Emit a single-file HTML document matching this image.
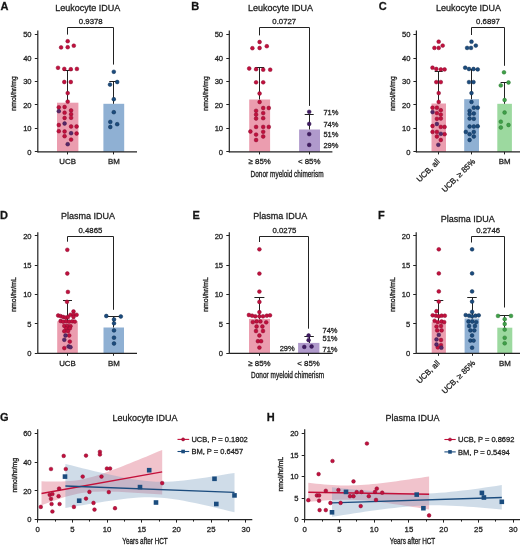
<!DOCTYPE html><html><head><meta charset="utf-8"><style>html,body{margin:0;padding:0;background:#fff;}svg{display:block;will-change:transform;}</style></head><body>
<svg width="520" height="547" viewBox="0 0 520 547" font-family='"Liberation Sans", sans-serif'>
<rect width="520" height="547" fill="#fff"/>
<text x="0.50" y="10.00" font-size="11" text-anchor="start" fill="#111" stroke="#222" stroke-width="0.28" font-weight="bold">A</text>
<text x="87.70" y="10.50" font-size="9" text-anchor="middle" fill="#222" stroke="#222" stroke-width="0.28" >Leukocyte IDUA</text>
<line x1="37.80" y1="30.50" x2="37.80" y2="152.40" stroke="#222" stroke-width="1.2"/>
<line x1="34.80" y1="151.50" x2="37.80" y2="151.50" stroke="#222" stroke-width="1"/>
<text x="31.60" y="154.60" font-size="7.6" text-anchor="end" fill="#222" stroke="#222" stroke-width="0.28" >0</text>
<line x1="34.80" y1="128.50" x2="37.80" y2="128.50" stroke="#222" stroke-width="1"/>
<text x="31.60" y="131.14" font-size="7.6" text-anchor="end" fill="#222" stroke="#222" stroke-width="0.28" >10</text>
<line x1="34.80" y1="104.50" x2="37.80" y2="104.50" stroke="#222" stroke-width="1"/>
<text x="31.60" y="107.68" font-size="7.6" text-anchor="end" fill="#222" stroke="#222" stroke-width="0.28" >20</text>
<line x1="34.80" y1="81.50" x2="37.80" y2="81.50" stroke="#222" stroke-width="1"/>
<text x="31.60" y="84.22" font-size="7.6" text-anchor="end" fill="#222" stroke="#222" stroke-width="0.28" >30</text>
<line x1="34.80" y1="58.50" x2="37.80" y2="58.50" stroke="#222" stroke-width="1"/>
<text x="31.60" y="60.76" font-size="7.6" text-anchor="end" fill="#222" stroke="#222" stroke-width="0.28" >40</text>
<line x1="34.80" y1="34.50" x2="37.80" y2="34.50" stroke="#222" stroke-width="1"/>
<text x="31.60" y="37.30" font-size="7.6" text-anchor="end" fill="#222" stroke="#222" stroke-width="0.28" >50</text>
<text transform="translate(16.40,93.40) rotate(-90)" font-size="7.9" text-anchor="middle" fill="#222" stroke="#222" stroke-width="0.35" textLength="34.5" lengthAdjust="spacingAndGlyphs">nmol/hr/mg</text>
<rect x="57.00" y="102.70" width="21.40" height="49.20" fill="#eb9daf"/>
<rect x="103.40" y="103.80" width="20.80" height="48.10" fill="#8fb0d3"/>
<line x1="67.50" y1="102.70" x2="67.50" y2="70.80" stroke="#222" stroke-width="1"/>
<line x1="63.20" y1="70.50" x2="72.20" y2="70.50" stroke="#222" stroke-width="1"/>
<line x1="113.50" y1="103.80" x2="113.50" y2="81.20" stroke="#222" stroke-width="1"/>
<line x1="109.30" y1="81.50" x2="118.30" y2="81.50" stroke="#222" stroke-width="1"/>
<line x1="37.80" y1="151.90" x2="137.00" y2="151.90" stroke="#222" stroke-width="1.2"/>
<line x1="67.50" y1="151.90" x2="67.50" y2="154.40" stroke="#222" stroke-width="1"/>
<line x1="113.50" y1="151.90" x2="113.50" y2="154.40" stroke="#222" stroke-width="1"/>
<text x="67.70" y="164.00" font-size="7.9" text-anchor="middle" fill="#222" stroke="#222" stroke-width="0.28" >UCB</text>
<text x="113.80" y="164.00" font-size="7.9" text-anchor="middle" fill="#222" stroke="#222" stroke-width="0.28" >BM</text>
<polyline points="67.50,34.60 67.50,27.50 113.50,27.50 113.50,64.60" fill="none" stroke="#222" stroke-width="1"/>
<text x="90.80" y="24.30" font-size="7.8" text-anchor="middle" fill="#222" stroke="#222" stroke-width="0.28" >0.9378</text>
<circle cx="67.70" cy="41.20" r="1.9" fill="#c2103d" stroke="#8a0c30" stroke-width="0.5"/>
<circle cx="61.10" cy="47.40" r="1.9" fill="#c2103d" stroke="#8a0c30" stroke-width="0.5"/>
<circle cx="67.70" cy="47.20" r="1.9" fill="#c2103d" stroke="#8a0c30" stroke-width="0.5"/>
<circle cx="73.80" cy="45.70" r="1.9" fill="#c2103d" stroke="#8a0c30" stroke-width="0.5"/>
<circle cx="58.00" cy="67.80" r="1.9" fill="#c2103d" stroke="#8a0c30" stroke-width="0.5"/>
<circle cx="64.30" cy="68.90" r="1.9" fill="#c2103d" stroke="#8a0c30" stroke-width="0.5"/>
<circle cx="70.80" cy="69.20" r="1.9" fill="#c2103d" stroke="#8a0c30" stroke-width="0.5"/>
<circle cx="76.90" cy="68.90" r="1.9" fill="#c2103d" stroke="#8a0c30" stroke-width="0.5"/>
<circle cx="64.30" cy="82.00" r="1.9" fill="#c2103d" stroke="#8a0c30" stroke-width="0.5"/>
<circle cx="70.80" cy="82.00" r="1.9" fill="#c2103d" stroke="#8a0c30" stroke-width="0.5"/>
<circle cx="67.70" cy="93.10" r="1.9" fill="#c2103d" stroke="#8a0c30" stroke-width="0.5"/>
<circle cx="67.70" cy="101.60" r="1.9" fill="#c2103d" stroke="#8a0c30" stroke-width="0.5"/>
<circle cx="58.80" cy="107.30" r="1.9" fill="#c2103d" stroke="#8a0c30" stroke-width="0.5"/>
<circle cx="64.60" cy="107.00" r="1.9" fill="#c2103d" stroke="#8a0c30" stroke-width="0.5"/>
<circle cx="64.60" cy="112.70" r="1.9" fill="#c2103d" stroke="#8a0c30" stroke-width="0.5"/>
<circle cx="71.10" cy="110.40" r="1.9" fill="#c2103d" stroke="#8a0c30" stroke-width="0.5"/>
<circle cx="71.10" cy="114.20" r="1.9" fill="#c2103d" stroke="#8a0c30" stroke-width="0.5"/>
<circle cx="64.60" cy="118.00" r="1.9" fill="#c2103d" stroke="#8a0c30" stroke-width="0.5"/>
<circle cx="71.10" cy="117.80" r="1.9" fill="#c2103d" stroke="#8a0c30" stroke-width="0.5"/>
<circle cx="58.80" cy="125.00" r="1.9" fill="#c2103d" stroke="#8a0c30" stroke-width="0.5"/>
<circle cx="71.10" cy="126.50" r="1.9" fill="#c2103d" stroke="#8a0c30" stroke-width="0.5"/>
<circle cx="76.60" cy="126.50" r="1.9" fill="#c2103d" stroke="#8a0c30" stroke-width="0.5"/>
<circle cx="58.80" cy="131.20" r="1.9" fill="#c2103d" stroke="#8a0c30" stroke-width="0.5"/>
<circle cx="64.60" cy="131.50" r="1.9" fill="#c2103d" stroke="#8a0c30" stroke-width="0.5"/>
<circle cx="76.60" cy="133.50" r="1.9" fill="#c2103d" stroke="#8a0c30" stroke-width="0.5"/>
<circle cx="64.60" cy="136.20" r="1.9" fill="#c2103d" stroke="#8a0c30" stroke-width="0.5"/>
<circle cx="71.10" cy="139.60" r="1.9" fill="#c2103d" stroke="#8a0c30" stroke-width="0.5"/>
<circle cx="58.80" cy="111.20" r="1.9" fill="#58286a" stroke="#3a1a48" stroke-width="0.5"/>
<circle cx="64.60" cy="123.50" r="1.9" fill="#58286a" stroke="#3a1a48" stroke-width="0.5"/>
<circle cx="71.10" cy="133.20" r="1.9" fill="#58286a" stroke="#3a1a48" stroke-width="0.5"/>
<circle cx="67.70" cy="144.20" r="1.9" fill="#58286a" stroke="#3a1a48" stroke-width="0.5"/>
<circle cx="113.80" cy="71.80" r="1.9" fill="#1b4c7e" stroke="#0f2e52" stroke-width="0.5"/>
<circle cx="110.00" cy="84.60" r="1.9" fill="#1b4c7e" stroke="#0f2e52" stroke-width="0.5"/>
<circle cx="117.20" cy="82.00" r="1.9" fill="#1b4c7e" stroke="#0f2e52" stroke-width="0.5"/>
<circle cx="113.80" cy="99.20" r="1.9" fill="#1b4c7e" stroke="#0f2e52" stroke-width="0.5"/>
<circle cx="113.80" cy="112.20" r="1.9" fill="#1b4c7e" stroke="#0f2e52" stroke-width="0.5"/>
<circle cx="110.30" cy="121.90" r="1.9" fill="#1b4c7e" stroke="#0f2e52" stroke-width="0.5"/>
<circle cx="117.20" cy="124.20" r="1.9" fill="#1b4c7e" stroke="#0f2e52" stroke-width="0.5"/>
<circle cx="110.30" cy="127.00" r="1.9" fill="#1b4c7e" stroke="#0f2e52" stroke-width="0.5"/>
<text x="191.20" y="10.00" font-size="11" text-anchor="start" fill="#111" stroke="#222" stroke-width="0.28" font-weight="bold">B</text>
<text x="280.40" y="10.50" font-size="9" text-anchor="middle" fill="#222" stroke="#222" stroke-width="0.28" >Leukocyte IDUA</text>
<line x1="229.30" y1="30.50" x2="229.30" y2="152.40" stroke="#222" stroke-width="1.2"/>
<line x1="226.30" y1="151.50" x2="229.30" y2="151.50" stroke="#222" stroke-width="1"/>
<text x="223.10" y="154.60" font-size="7.6" text-anchor="end" fill="#222" stroke="#222" stroke-width="0.28" >0</text>
<line x1="226.30" y1="128.50" x2="229.30" y2="128.50" stroke="#222" stroke-width="1"/>
<text x="223.10" y="131.14" font-size="7.6" text-anchor="end" fill="#222" stroke="#222" stroke-width="0.28" >10</text>
<line x1="226.30" y1="104.50" x2="229.30" y2="104.50" stroke="#222" stroke-width="1"/>
<text x="223.10" y="107.68" font-size="7.6" text-anchor="end" fill="#222" stroke="#222" stroke-width="0.28" >20</text>
<line x1="226.30" y1="81.50" x2="229.30" y2="81.50" stroke="#222" stroke-width="1"/>
<text x="223.10" y="84.22" font-size="7.6" text-anchor="end" fill="#222" stroke="#222" stroke-width="0.28" >30</text>
<line x1="226.30" y1="58.50" x2="229.30" y2="58.50" stroke="#222" stroke-width="1"/>
<text x="223.10" y="60.76" font-size="7.6" text-anchor="end" fill="#222" stroke="#222" stroke-width="0.28" >40</text>
<line x1="226.30" y1="34.50" x2="229.30" y2="34.50" stroke="#222" stroke-width="1"/>
<text x="223.10" y="37.30" font-size="7.6" text-anchor="end" fill="#222" stroke="#222" stroke-width="0.28" >50</text>
<text transform="translate(207.80,93.40) rotate(-90)" font-size="7.9" text-anchor="middle" fill="#222" stroke="#222" stroke-width="0.35" textLength="34.5" lengthAdjust="spacingAndGlyphs">nmol/hr/mg</text>
<rect x="249.20" y="99.50" width="20.90" height="52.40" fill="#eb9daf"/>
<rect x="299.10" y="129.50" width="20.90" height="22.40" fill="#b09acc"/>
<line x1="259.50" y1="99.50" x2="259.50" y2="67.20" stroke="#222" stroke-width="1"/>
<line x1="255.20" y1="67.50" x2="264.20" y2="67.50" stroke="#222" stroke-width="1"/>
<line x1="309.50" y1="129.50" x2="309.50" y2="114.70" stroke="#222" stroke-width="1"/>
<line x1="304.70" y1="114.50" x2="313.70" y2="114.50" stroke="#222" stroke-width="1"/>
<line x1="229.30" y1="151.90" x2="332.40" y2="151.90" stroke="#222" stroke-width="1.2"/>
<line x1="259.50" y1="151.90" x2="259.50" y2="154.40" stroke="#222" stroke-width="1"/>
<line x1="309.50" y1="151.90" x2="309.50" y2="154.40" stroke="#222" stroke-width="1"/>
<text x="259.70" y="164.00" font-size="7.9" text-anchor="middle" fill="#222" stroke="#222" stroke-width="0.28" >≥ 85%</text>
<text x="309.20" y="164.00" font-size="7.9" text-anchor="middle" fill="#222" stroke="#222" stroke-width="0.28" >&lt; 85%</text>
<text x="287.10" y="177.20" font-size="9.3" text-anchor="middle" fill="#222" stroke="#222" stroke-width="0.35" textLength="73" lengthAdjust="spacingAndGlyphs">Donor myeloid chimerism</text>
<polyline points="259.50,35.40 259.50,27.50 309.50,27.50 309.50,105.90" fill="none" stroke="#222" stroke-width="1"/>
<text x="284.30" y="24.30" font-size="7.8" text-anchor="middle" fill="#222" stroke="#222" stroke-width="0.28" >0.0727</text>
<circle cx="259.60" cy="42.00" r="1.9" fill="#c2103d" stroke="#8a0c30" stroke-width="0.5"/>
<circle cx="252.40" cy="48.20" r="1.9" fill="#c2103d" stroke="#8a0c30" stroke-width="0.5"/>
<circle cx="259.60" cy="48.00" r="1.9" fill="#c2103d" stroke="#8a0c30" stroke-width="0.5"/>
<circle cx="266.80" cy="46.20" r="1.9" fill="#c2103d" stroke="#8a0c30" stroke-width="0.5"/>
<circle cx="249.20" cy="68.50" r="1.9" fill="#c2103d" stroke="#8a0c30" stroke-width="0.5"/>
<circle cx="256.10" cy="69.20" r="1.9" fill="#c2103d" stroke="#8a0c30" stroke-width="0.5"/>
<circle cx="263.20" cy="69.70" r="1.9" fill="#c2103d" stroke="#8a0c30" stroke-width="0.5"/>
<circle cx="270.20" cy="69.70" r="1.9" fill="#c2103d" stroke="#8a0c30" stroke-width="0.5"/>
<circle cx="256.10" cy="82.30" r="1.9" fill="#c2103d" stroke="#8a0c30" stroke-width="0.5"/>
<circle cx="263.20" cy="82.30" r="1.9" fill="#c2103d" stroke="#8a0c30" stroke-width="0.5"/>
<circle cx="259.60" cy="93.50" r="1.9" fill="#c2103d" stroke="#8a0c30" stroke-width="0.5"/>
<circle cx="259.60" cy="102.00" r="1.9" fill="#c2103d" stroke="#8a0c30" stroke-width="0.5"/>
<circle cx="263.20" cy="108.00" r="1.9" fill="#c2103d" stroke="#8a0c30" stroke-width="0.5"/>
<circle cx="268.80" cy="108.00" r="1.9" fill="#c2103d" stroke="#8a0c30" stroke-width="0.5"/>
<circle cx="256.10" cy="110.80" r="1.9" fill="#c2103d" stroke="#8a0c30" stroke-width="0.5"/>
<circle cx="263.20" cy="113.10" r="1.9" fill="#c2103d" stroke="#8a0c30" stroke-width="0.5"/>
<circle cx="256.10" cy="114.60" r="1.9" fill="#c2103d" stroke="#8a0c30" stroke-width="0.5"/>
<circle cx="256.10" cy="118.50" r="1.9" fill="#c2103d" stroke="#8a0c30" stroke-width="0.5"/>
<circle cx="263.20" cy="118.20" r="1.9" fill="#c2103d" stroke="#8a0c30" stroke-width="0.5"/>
<circle cx="256.10" cy="126.90" r="1.9" fill="#c2103d" stroke="#8a0c30" stroke-width="0.5"/>
<circle cx="263.20" cy="126.90" r="1.9" fill="#c2103d" stroke="#8a0c30" stroke-width="0.5"/>
<circle cx="268.80" cy="126.90" r="1.9" fill="#c2103d" stroke="#8a0c30" stroke-width="0.5"/>
<circle cx="250.40" cy="131.50" r="1.9" fill="#c2103d" stroke="#8a0c30" stroke-width="0.5"/>
<circle cx="263.20" cy="131.80" r="1.9" fill="#c2103d" stroke="#8a0c30" stroke-width="0.5"/>
<circle cx="256.10" cy="134.60" r="1.9" fill="#c2103d" stroke="#8a0c30" stroke-width="0.5"/>
<circle cx="263.20" cy="136.50" r="1.9" fill="#c2103d" stroke="#8a0c30" stroke-width="0.5"/>
<circle cx="256.10" cy="140.00" r="1.9" fill="#c2103d" stroke="#8a0c30" stroke-width="0.5"/>
<circle cx="309.20" cy="111.80" r="1.9" fill="#3f1a62" stroke="#2e1248" stroke-width="0.5"/>
<circle cx="309.20" cy="123.90" r="1.9" fill="#3f1a62" stroke="#2e1248" stroke-width="0.5"/>
<circle cx="309.20" cy="134.10" r="1.9" fill="#3f1a62" stroke="#2e1248" stroke-width="0.5"/>
<circle cx="309.20" cy="144.90" r="1.9" fill="#3f1a62" stroke="#2e1248" stroke-width="0.5"/>
<text x="323.40" y="115.10" font-size="7.5" text-anchor="start" fill="#222" stroke="#222" stroke-width="0.28" >71%</text>
<text x="323.40" y="126.60" font-size="7.5" text-anchor="start" fill="#222" stroke="#222" stroke-width="0.28" >74%</text>
<text x="323.40" y="136.80" font-size="7.5" text-anchor="start" fill="#222" stroke="#222" stroke-width="0.28" >51%</text>
<text x="323.40" y="147.60" font-size="7.5" text-anchor="start" fill="#222" stroke="#222" stroke-width="0.28" >29%</text>
<text x="378.70" y="10.00" font-size="11" text-anchor="start" fill="#111" stroke="#222" stroke-width="0.28" font-weight="bold">C</text>
<text x="468.50" y="10.50" font-size="9" text-anchor="middle" fill="#222" stroke="#222" stroke-width="0.28" >Leukocyte IDUA</text>
<line x1="416.40" y1="30.50" x2="416.40" y2="152.40" stroke="#222" stroke-width="1.2"/>
<line x1="413.40" y1="151.50" x2="416.40" y2="151.50" stroke="#222" stroke-width="1"/>
<text x="410.40" y="154.60" font-size="7.6" text-anchor="end" fill="#222" stroke="#222" stroke-width="0.28" >0</text>
<line x1="413.40" y1="128.50" x2="416.40" y2="128.50" stroke="#222" stroke-width="1"/>
<text x="410.40" y="131.14" font-size="7.6" text-anchor="end" fill="#222" stroke="#222" stroke-width="0.28" >10</text>
<line x1="413.40" y1="104.50" x2="416.40" y2="104.50" stroke="#222" stroke-width="1"/>
<text x="410.40" y="107.68" font-size="7.6" text-anchor="end" fill="#222" stroke="#222" stroke-width="0.28" >20</text>
<line x1="413.40" y1="81.50" x2="416.40" y2="81.50" stroke="#222" stroke-width="1"/>
<text x="410.40" y="84.22" font-size="7.6" text-anchor="end" fill="#222" stroke="#222" stroke-width="0.28" >30</text>
<line x1="413.40" y1="58.50" x2="416.40" y2="58.50" stroke="#222" stroke-width="1"/>
<text x="410.40" y="60.76" font-size="7.6" text-anchor="end" fill="#222" stroke="#222" stroke-width="0.28" >40</text>
<line x1="413.40" y1="34.50" x2="416.40" y2="34.50" stroke="#222" stroke-width="1"/>
<text x="410.40" y="37.30" font-size="7.6" text-anchor="end" fill="#222" stroke="#222" stroke-width="0.28" >50</text>
<text transform="translate(395.00,93.40) rotate(-90)" font-size="7.9" text-anchor="middle" fill="#222" stroke="#222" stroke-width="0.35" textLength="34.5" lengthAdjust="spacingAndGlyphs">nmol/hr/mg</text>
<rect x="431.50" y="103.50" width="14.50" height="48.40" fill="#eb9daf"/>
<rect x="464.20" y="99.20" width="14.80" height="52.70" fill="#8fb0d3"/>
<rect x="497.30" y="103.80" width="14.60" height="48.10" fill="#9cd99f"/>
<line x1="438.50" y1="103.50" x2="438.50" y2="71.00" stroke="#222" stroke-width="1"/>
<line x1="434.70" y1="71.50" x2="442.70" y2="71.50" stroke="#222" stroke-width="1"/>
<line x1="471.50" y1="99.20" x2="471.50" y2="69.20" stroke="#222" stroke-width="1"/>
<line x1="467.60" y1="69.50" x2="475.60" y2="69.50" stroke="#222" stroke-width="1"/>
<line x1="504.50" y1="103.80" x2="504.50" y2="82.10" stroke="#222" stroke-width="1"/>
<line x1="500.60" y1="82.50" x2="508.60" y2="82.50" stroke="#222" stroke-width="1"/>
<line x1="416.40" y1="151.90" x2="520.00" y2="151.90" stroke="#222" stroke-width="1.2"/>
<line x1="438.50" y1="151.90" x2="438.50" y2="154.40" stroke="#222" stroke-width="1"/>
<line x1="471.50" y1="151.90" x2="471.50" y2="154.40" stroke="#222" stroke-width="1"/>
<line x1="504.50" y1="151.90" x2="504.50" y2="154.40" stroke="#222" stroke-width="1"/>
<text transform="translate(440.30,162.10) rotate(-45)" font-size="7.9" text-anchor="end" fill="#222" stroke="#222" stroke-width="0.28">UCB, all</text>
<text transform="translate(475.60,162.10) rotate(-45)" font-size="7.9" text-anchor="end" fill="#222" stroke="#222" stroke-width="0.28">UCB, ≥ 85%</text>
<text x="504.60" y="164.00" font-size="7.9" text-anchor="middle" fill="#222" stroke="#222" stroke-width="0.28" >BM</text>
<polyline points="471.50,35.00 471.50,27.50 504.50,27.50 504.50,65.80" fill="none" stroke="#222" stroke-width="1"/>
<text x="488.00" y="24.30" font-size="7.8" text-anchor="middle" fill="#222" stroke="#222" stroke-width="0.28" >0.6897</text>
<circle cx="438.70" cy="41.70" r="1.9" fill="#c2103d" stroke="#8a0c30" stroke-width="0.5"/>
<circle cx="434.40" cy="47.90" r="1.9" fill="#c2103d" stroke="#8a0c30" stroke-width="0.5"/>
<circle cx="438.70" cy="47.90" r="1.9" fill="#c2103d" stroke="#8a0c30" stroke-width="0.5"/>
<circle cx="442.70" cy="45.60" r="1.9" fill="#c2103d" stroke="#8a0c30" stroke-width="0.5"/>
<circle cx="432.50" cy="67.70" r="1.9" fill="#c2103d" stroke="#8a0c30" stroke-width="0.5"/>
<circle cx="436.30" cy="69.00" r="1.9" fill="#c2103d" stroke="#8a0c30" stroke-width="0.5"/>
<circle cx="440.80" cy="69.40" r="1.9" fill="#c2103d" stroke="#8a0c30" stroke-width="0.5"/>
<circle cx="444.60" cy="69.40" r="1.9" fill="#c2103d" stroke="#8a0c30" stroke-width="0.5"/>
<circle cx="436.30" cy="82.10" r="1.9" fill="#c2103d" stroke="#8a0c30" stroke-width="0.5"/>
<circle cx="440.80" cy="82.10" r="1.9" fill="#c2103d" stroke="#8a0c30" stroke-width="0.5"/>
<circle cx="438.70" cy="93.10" r="1.9" fill="#c2103d" stroke="#8a0c30" stroke-width="0.5"/>
<circle cx="438.70" cy="101.90" r="1.9" fill="#c2103d" stroke="#8a0c30" stroke-width="0.5"/>
<circle cx="432.50" cy="107.70" r="1.9" fill="#c2103d" stroke="#8a0c30" stroke-width="0.5"/>
<circle cx="436.90" cy="107.70" r="1.9" fill="#c2103d" stroke="#8a0c30" stroke-width="0.5"/>
<circle cx="436.90" cy="113.10" r="1.9" fill="#c2103d" stroke="#8a0c30" stroke-width="0.5"/>
<circle cx="440.80" cy="110.20" r="1.9" fill="#c2103d" stroke="#8a0c30" stroke-width="0.5"/>
<circle cx="440.80" cy="114.60" r="1.9" fill="#c2103d" stroke="#8a0c30" stroke-width="0.5"/>
<circle cx="436.90" cy="118.80" r="1.9" fill="#c2103d" stroke="#8a0c30" stroke-width="0.5"/>
<circle cx="440.80" cy="118.50" r="1.9" fill="#c2103d" stroke="#8a0c30" stroke-width="0.5"/>
<circle cx="432.50" cy="126.00" r="1.9" fill="#c2103d" stroke="#8a0c30" stroke-width="0.5"/>
<circle cx="440.80" cy="126.90" r="1.9" fill="#c2103d" stroke="#8a0c30" stroke-width="0.5"/>
<circle cx="444.60" cy="126.90" r="1.9" fill="#c2103d" stroke="#8a0c30" stroke-width="0.5"/>
<circle cx="432.50" cy="131.90" r="1.9" fill="#c2103d" stroke="#8a0c30" stroke-width="0.5"/>
<circle cx="436.90" cy="131.90" r="1.9" fill="#c2103d" stroke="#8a0c30" stroke-width="0.5"/>
<circle cx="444.60" cy="134.20" r="1.9" fill="#c2103d" stroke="#8a0c30" stroke-width="0.5"/>
<circle cx="436.90" cy="136.50" r="1.9" fill="#c2103d" stroke="#8a0c30" stroke-width="0.5"/>
<circle cx="440.80" cy="140.00" r="1.9" fill="#c2103d" stroke="#8a0c30" stroke-width="0.5"/>
<circle cx="432.50" cy="112.10" r="1.9" fill="#58286a" stroke="#3a1a48" stroke-width="0.5"/>
<circle cx="436.90" cy="124.00" r="1.9" fill="#58286a" stroke="#3a1a48" stroke-width="0.5"/>
<circle cx="440.80" cy="133.80" r="1.9" fill="#58286a" stroke="#3a1a48" stroke-width="0.5"/>
<circle cx="438.30" cy="144.80" r="1.9" fill="#58286a" stroke="#3a1a48" stroke-width="0.5"/>
<circle cx="471.50" cy="41.70" r="1.9" fill="#1b4c7e" stroke="#0f2e52" stroke-width="0.5"/>
<circle cx="467.10" cy="47.90" r="1.9" fill="#1b4c7e" stroke="#0f2e52" stroke-width="0.5"/>
<circle cx="471.00" cy="47.90" r="1.9" fill="#1b4c7e" stroke="#0f2e52" stroke-width="0.5"/>
<circle cx="475.80" cy="45.60" r="1.9" fill="#1b4c7e" stroke="#0f2e52" stroke-width="0.5"/>
<circle cx="465.20" cy="67.70" r="1.9" fill="#1b4c7e" stroke="#0f2e52" stroke-width="0.5"/>
<circle cx="469.00" cy="69.00" r="1.9" fill="#1b4c7e" stroke="#0f2e52" stroke-width="0.5"/>
<circle cx="473.50" cy="69.00" r="1.9" fill="#1b4c7e" stroke="#0f2e52" stroke-width="0.5"/>
<circle cx="477.70" cy="69.40" r="1.9" fill="#1b4c7e" stroke="#0f2e52" stroke-width="0.5"/>
<circle cx="469.00" cy="82.10" r="1.9" fill="#1b4c7e" stroke="#0f2e52" stroke-width="0.5"/>
<circle cx="473.50" cy="82.10" r="1.9" fill="#1b4c7e" stroke="#0f2e52" stroke-width="0.5"/>
<circle cx="471.50" cy="93.10" r="1.9" fill="#1b4c7e" stroke="#0f2e52" stroke-width="0.5"/>
<circle cx="471.50" cy="101.90" r="1.9" fill="#1b4c7e" stroke="#0f2e52" stroke-width="0.5"/>
<circle cx="473.80" cy="107.70" r="1.9" fill="#1b4c7e" stroke="#0f2e52" stroke-width="0.5"/>
<circle cx="477.70" cy="107.70" r="1.9" fill="#1b4c7e" stroke="#0f2e52" stroke-width="0.5"/>
<circle cx="469.60" cy="110.80" r="1.9" fill="#1b4c7e" stroke="#0f2e52" stroke-width="0.5"/>
<circle cx="473.80" cy="113.50" r="1.9" fill="#1b4c7e" stroke="#0f2e52" stroke-width="0.5"/>
<circle cx="469.60" cy="114.00" r="1.9" fill="#1b4c7e" stroke="#0f2e52" stroke-width="0.5"/>
<circle cx="469.60" cy="118.50" r="1.9" fill="#1b4c7e" stroke="#0f2e52" stroke-width="0.5"/>
<circle cx="473.80" cy="118.80" r="1.9" fill="#1b4c7e" stroke="#0f2e52" stroke-width="0.5"/>
<circle cx="469.60" cy="126.50" r="1.9" fill="#1b4c7e" stroke="#0f2e52" stroke-width="0.5"/>
<circle cx="473.80" cy="126.50" r="1.9" fill="#1b4c7e" stroke="#0f2e52" stroke-width="0.5"/>
<circle cx="477.70" cy="126.20" r="1.9" fill="#1b4c7e" stroke="#0f2e52" stroke-width="0.5"/>
<circle cx="465.80" cy="131.90" r="1.9" fill="#1b4c7e" stroke="#0f2e52" stroke-width="0.5"/>
<circle cx="473.80" cy="131.90" r="1.9" fill="#1b4c7e" stroke="#0f2e52" stroke-width="0.5"/>
<circle cx="469.60" cy="134.20" r="1.9" fill="#1b4c7e" stroke="#0f2e52" stroke-width="0.5"/>
<circle cx="473.80" cy="136.50" r="1.9" fill="#1b4c7e" stroke="#0f2e52" stroke-width="0.5"/>
<circle cx="469.60" cy="140.00" r="1.9" fill="#1b4c7e" stroke="#0f2e52" stroke-width="0.5"/>
<circle cx="504.00" cy="72.30" r="1.9" fill="#3fa049" stroke="#2f7a33" stroke-width="0.5"/>
<circle cx="500.80" cy="85.40" r="1.9" fill="#3fa049" stroke="#2f7a33" stroke-width="0.5"/>
<circle cx="508.50" cy="82.50" r="1.9" fill="#3fa049" stroke="#2f7a33" stroke-width="0.5"/>
<circle cx="504.60" cy="100.00" r="1.9" fill="#3fa049" stroke="#2f7a33" stroke-width="0.5"/>
<circle cx="504.60" cy="112.50" r="1.9" fill="#3fa049" stroke="#2f7a33" stroke-width="0.5"/>
<circle cx="500.80" cy="121.70" r="1.9" fill="#3fa049" stroke="#2f7a33" stroke-width="0.5"/>
<circle cx="508.50" cy="125.00" r="1.9" fill="#3fa049" stroke="#2f7a33" stroke-width="0.5"/>
<circle cx="500.80" cy="127.50" r="1.9" fill="#3fa049" stroke="#2f7a33" stroke-width="0.5"/>
<text x="0.00" y="219.40" font-size="11" text-anchor="start" fill="#111" stroke="#222" stroke-width="0.28" font-weight="bold">D</text>
<text x="87.90" y="219.40" font-size="9" text-anchor="middle" fill="#222" stroke="#222" stroke-width="0.28" >Plasma IDUA</text>
<line x1="37.80" y1="232.30" x2="37.80" y2="353.80" stroke="#222" stroke-width="1.2"/>
<line x1="34.80" y1="353.50" x2="37.80" y2="353.50" stroke="#222" stroke-width="1"/>
<text x="31.60" y="356.00" font-size="7.6" text-anchor="end" fill="#222" stroke="#222" stroke-width="0.28" >0</text>
<line x1="34.80" y1="323.50" x2="37.80" y2="323.50" stroke="#222" stroke-width="1"/>
<text x="31.60" y="326.65" font-size="7.6" text-anchor="end" fill="#222" stroke="#222" stroke-width="0.28" >5</text>
<line x1="34.80" y1="294.50" x2="37.80" y2="294.50" stroke="#222" stroke-width="1"/>
<text x="31.60" y="297.30" font-size="7.6" text-anchor="end" fill="#222" stroke="#222" stroke-width="0.28" >10</text>
<line x1="34.80" y1="265.50" x2="37.80" y2="265.50" stroke="#222" stroke-width="1"/>
<text x="31.60" y="267.95" font-size="7.6" text-anchor="end" fill="#222" stroke="#222" stroke-width="0.28" >15</text>
<line x1="34.80" y1="235.50" x2="37.80" y2="235.50" stroke="#222" stroke-width="1"/>
<text x="31.60" y="238.60" font-size="7.6" text-anchor="end" fill="#222" stroke="#222" stroke-width="0.28" >20</text>
<text transform="translate(16.40,294.50) rotate(-90)" font-size="7.9" text-anchor="middle" fill="#222" stroke="#222" stroke-width="0.35" textLength="34.5" lengthAdjust="spacingAndGlyphs">nmol/hr/mL</text>
<rect x="57.20" y="321.30" width="20.60" height="32.00" fill="#eb9daf"/>
<rect x="103.50" y="327.50" width="20.50" height="25.80" fill="#8fb0d3"/>
<line x1="67.50" y1="321.30" x2="67.50" y2="300.20" stroke="#222" stroke-width="1"/>
<line x1="63.00" y1="300.50" x2="72.00" y2="300.50" stroke="#222" stroke-width="1"/>
<line x1="113.50" y1="327.50" x2="113.50" y2="316.50" stroke="#222" stroke-width="1"/>
<line x1="106.40" y1="316.50" x2="121.40" y2="316.50" stroke="#222" stroke-width="1"/>
<line x1="37.80" y1="353.30" x2="137.00" y2="353.30" stroke="#222" stroke-width="1.2"/>
<line x1="67.50" y1="353.30" x2="67.50" y2="355.80" stroke="#222" stroke-width="1"/>
<line x1="113.50" y1="353.30" x2="113.50" y2="355.80" stroke="#222" stroke-width="1"/>
<text x="67.50" y="365.50" font-size="7.9" text-anchor="middle" fill="#222" stroke="#222" stroke-width="0.28" >UCB</text>
<text x="113.90" y="365.50" font-size="7.9" text-anchor="middle" fill="#222" stroke="#222" stroke-width="0.28" >BM</text>
<polyline points="67.50,241.70 67.50,236.50 113.50,236.50 113.50,309.80" fill="none" stroke="#222" stroke-width="1"/>
<text x="90.40" y="233.10" font-size="7.8" text-anchor="middle" fill="#222" stroke="#222" stroke-width="0.28" >0.4865</text>
<circle cx="67.30" cy="249.80" r="1.9" fill="#c2103d" stroke="#8a0c30" stroke-width="0.5"/>
<circle cx="67.30" cy="273.50" r="1.9" fill="#c2103d" stroke="#8a0c30" stroke-width="0.5"/>
<circle cx="67.90" cy="291.90" r="1.9" fill="#c2103d" stroke="#8a0c30" stroke-width="0.5"/>
<circle cx="67.00" cy="301.80" r="1.9" fill="#c2103d" stroke="#8a0c30" stroke-width="0.5"/>
<circle cx="58.20" cy="315.50" r="1.9" fill="#c2103d" stroke="#8a0c30" stroke-width="0.5"/>
<circle cx="60.60" cy="316.10" r="1.9" fill="#c2103d" stroke="#8a0c30" stroke-width="0.5"/>
<circle cx="63.10" cy="317.00" r="1.9" fill="#c2103d" stroke="#8a0c30" stroke-width="0.5"/>
<circle cx="65.50" cy="317.60" r="1.9" fill="#c2103d" stroke="#8a0c30" stroke-width="0.5"/>
<circle cx="68.00" cy="317.00" r="1.9" fill="#c2103d" stroke="#8a0c30" stroke-width="0.5"/>
<circle cx="70.50" cy="314.80" r="1.9" fill="#c2103d" stroke="#8a0c30" stroke-width="0.5"/>
<circle cx="73.50" cy="311.50" r="1.9" fill="#c2103d" stroke="#8a0c30" stroke-width="0.5"/>
<circle cx="73.50" cy="314.80" r="1.9" fill="#c2103d" stroke="#8a0c30" stroke-width="0.5"/>
<circle cx="76.60" cy="314.80" r="1.9" fill="#c2103d" stroke="#8a0c30" stroke-width="0.5"/>
<circle cx="73.50" cy="317.00" r="1.9" fill="#c2103d" stroke="#8a0c30" stroke-width="0.5"/>
<circle cx="60.60" cy="321.00" r="1.9" fill="#c2103d" stroke="#8a0c30" stroke-width="0.5"/>
<circle cx="63.10" cy="321.60" r="1.9" fill="#c2103d" stroke="#8a0c30" stroke-width="0.5"/>
<circle cx="66.20" cy="321.30" r="1.9" fill="#c2103d" stroke="#8a0c30" stroke-width="0.5"/>
<circle cx="69.20" cy="321.60" r="1.9" fill="#c2103d" stroke="#8a0c30" stroke-width="0.5"/>
<circle cx="72.30" cy="321.30" r="1.9" fill="#c2103d" stroke="#8a0c30" stroke-width="0.5"/>
<circle cx="74.80" cy="321.60" r="1.9" fill="#c2103d" stroke="#8a0c30" stroke-width="0.5"/>
<circle cx="64.30" cy="325.90" r="1.9" fill="#c2103d" stroke="#8a0c30" stroke-width="0.5"/>
<circle cx="67.40" cy="325.90" r="1.9" fill="#c2103d" stroke="#8a0c30" stroke-width="0.5"/>
<circle cx="70.50" cy="326.20" r="1.9" fill="#c2103d" stroke="#8a0c30" stroke-width="0.5"/>
<circle cx="66.20" cy="328.40" r="1.9" fill="#c2103d" stroke="#8a0c30" stroke-width="0.5"/>
<circle cx="69.80" cy="328.40" r="1.9" fill="#c2103d" stroke="#8a0c30" stroke-width="0.5"/>
<circle cx="64.30" cy="331.20" r="1.9" fill="#c2103d" stroke="#8a0c30" stroke-width="0.5"/>
<circle cx="68.00" cy="331.20" r="1.9" fill="#c2103d" stroke="#8a0c30" stroke-width="0.5"/>
<circle cx="69.20" cy="335.50" r="1.9" fill="#c2103d" stroke="#8a0c30" stroke-width="0.5"/>
<circle cx="69.80" cy="341.60" r="1.9" fill="#c2103d" stroke="#8a0c30" stroke-width="0.5"/>
<circle cx="64.30" cy="348.10" r="1.9" fill="#c2103d" stroke="#8a0c30" stroke-width="0.5"/>
<circle cx="65.50" cy="335.50" r="1.9" fill="#58286a" stroke="#3a1a48" stroke-width="0.5"/>
<circle cx="64.30" cy="339.80" r="1.9" fill="#58286a" stroke="#3a1a48" stroke-width="0.5"/>
<circle cx="68.60" cy="346.50" r="1.9" fill="#58286a" stroke="#3a1a48" stroke-width="0.5"/>
<circle cx="70.50" cy="347.20" r="1.9" fill="#58286a" stroke="#3a1a48" stroke-width="0.5"/>
<circle cx="106.30" cy="316.00" r="1.9" fill="#1b4c7e" stroke="#0f2e52" stroke-width="0.5"/>
<circle cx="120.80" cy="316.50" r="1.9" fill="#1b4c7e" stroke="#0f2e52" stroke-width="0.5"/>
<circle cx="114.00" cy="319.40" r="1.9" fill="#1b4c7e" stroke="#0f2e52" stroke-width="0.5"/>
<circle cx="114.00" cy="323.30" r="1.9" fill="#1b4c7e" stroke="#0f2e52" stroke-width="0.5"/>
<circle cx="114.00" cy="330.40" r="1.9" fill="#1b4c7e" stroke="#0f2e52" stroke-width="0.5"/>
<circle cx="114.00" cy="337.70" r="1.9" fill="#1b4c7e" stroke="#0f2e52" stroke-width="0.5"/>
<circle cx="114.00" cy="343.50" r="1.9" fill="#1b4c7e" stroke="#0f2e52" stroke-width="0.5"/>
<text x="192.60" y="219.40" font-size="11" text-anchor="start" fill="#111" stroke="#222" stroke-width="0.28" font-weight="bold">E</text>
<text x="280.30" y="219.40" font-size="9" text-anchor="middle" fill="#222" stroke="#222" stroke-width="0.28" >Plasma IDUA</text>
<line x1="229.30" y1="232.30" x2="229.30" y2="353.80" stroke="#222" stroke-width="1.2"/>
<line x1="226.30" y1="353.50" x2="229.30" y2="353.50" stroke="#222" stroke-width="1"/>
<text x="223.10" y="356.00" font-size="7.6" text-anchor="end" fill="#222" stroke="#222" stroke-width="0.28" >0</text>
<line x1="226.30" y1="323.50" x2="229.30" y2="323.50" stroke="#222" stroke-width="1"/>
<text x="223.10" y="326.65" font-size="7.6" text-anchor="end" fill="#222" stroke="#222" stroke-width="0.28" >5</text>
<line x1="226.30" y1="294.50" x2="229.30" y2="294.50" stroke="#222" stroke-width="1"/>
<text x="223.10" y="297.30" font-size="7.6" text-anchor="end" fill="#222" stroke="#222" stroke-width="0.28" >10</text>
<line x1="226.30" y1="265.50" x2="229.30" y2="265.50" stroke="#222" stroke-width="1"/>
<text x="223.10" y="267.95" font-size="7.6" text-anchor="end" fill="#222" stroke="#222" stroke-width="0.28" >15</text>
<line x1="226.30" y1="235.50" x2="229.30" y2="235.50" stroke="#222" stroke-width="1"/>
<text x="223.10" y="238.60" font-size="7.6" text-anchor="end" fill="#222" stroke="#222" stroke-width="0.28" >20</text>
<text transform="translate(207.80,294.50) rotate(-90)" font-size="7.9" text-anchor="middle" fill="#222" stroke="#222" stroke-width="0.35" textLength="34.5" lengthAdjust="spacingAndGlyphs">nmol/hr/mL</text>
<rect x="249.00" y="318.90" width="21.00" height="34.40" fill="#eb9daf"/>
<rect x="298.10" y="342.90" width="21.30" height="10.40" fill="#b09acc"/>
<line x1="259.50" y1="318.90" x2="259.50" y2="297.10" stroke="#222" stroke-width="1"/>
<line x1="254.40" y1="297.50" x2="264.40" y2="297.50" stroke="#222" stroke-width="1"/>
<line x1="309.50" y1="343.00" x2="309.50" y2="336.80" stroke="#222" stroke-width="1"/>
<line x1="304.35" y1="336.50" x2="313.85" y2="336.50" stroke="#222" stroke-width="1"/>
<line x1="229.30" y1="353.30" x2="332.70" y2="353.30" stroke="#222" stroke-width="1.2"/>
<line x1="259.50" y1="353.30" x2="259.50" y2="355.80" stroke="#222" stroke-width="1"/>
<line x1="308.50" y1="353.30" x2="308.50" y2="355.80" stroke="#222" stroke-width="1"/>
<text x="259.40" y="365.50" font-size="7.9" text-anchor="middle" fill="#222" stroke="#222" stroke-width="0.28" >≥ 85%</text>
<text x="308.50" y="365.50" font-size="7.9" text-anchor="middle" fill="#222" stroke="#222" stroke-width="0.28" >&lt; 85%</text>
<text x="287.60" y="378.20" font-size="9.3" text-anchor="middle" fill="#222" stroke="#222" stroke-width="0.35" textLength="73" lengthAdjust="spacingAndGlyphs">Donor myeloid chimerism</text>
<polyline points="259.50,242.00 259.50,236.50 308.50,236.50 308.50,328.70" fill="none" stroke="#222" stroke-width="1"/>
<text x="284.40" y="233.10" font-size="7.8" text-anchor="middle" fill="#222" stroke="#222" stroke-width="0.28" >0.0275</text>
<circle cx="259.40" cy="249.30" r="1.9" fill="#c2103d" stroke="#8a0c30" stroke-width="0.5"/>
<circle cx="259.40" cy="273.60" r="1.9" fill="#c2103d" stroke="#8a0c30" stroke-width="0.5"/>
<circle cx="259.40" cy="291.60" r="1.9" fill="#c2103d" stroke="#8a0c30" stroke-width="0.5"/>
<circle cx="259.40" cy="301.90" r="1.9" fill="#c2103d" stroke="#8a0c30" stroke-width="0.5"/>
<circle cx="259.40" cy="312.10" r="1.9" fill="#c2103d" stroke="#8a0c30" stroke-width="0.5"/>
<circle cx="248.90" cy="315.00" r="1.9" fill="#c2103d" stroke="#8a0c30" stroke-width="0.5"/>
<circle cx="252.10" cy="315.70" r="1.9" fill="#c2103d" stroke="#8a0c30" stroke-width="0.5"/>
<circle cx="255.30" cy="316.30" r="1.9" fill="#c2103d" stroke="#8a0c30" stroke-width="0.5"/>
<circle cx="259.40" cy="316.30" r="1.9" fill="#c2103d" stroke="#8a0c30" stroke-width="0.5"/>
<circle cx="263.00" cy="316.30" r="1.9" fill="#c2103d" stroke="#8a0c30" stroke-width="0.5"/>
<circle cx="266.80" cy="315.70" r="1.9" fill="#c2103d" stroke="#8a0c30" stroke-width="0.5"/>
<circle cx="270.00" cy="315.30" r="1.9" fill="#c2103d" stroke="#8a0c30" stroke-width="0.5"/>
<circle cx="252.80" cy="322.10" r="1.9" fill="#c2103d" stroke="#8a0c30" stroke-width="0.5"/>
<circle cx="256.60" cy="321.40" r="1.9" fill="#c2103d" stroke="#8a0c30" stroke-width="0.5"/>
<circle cx="260.40" cy="321.40" r="1.9" fill="#c2103d" stroke="#8a0c30" stroke-width="0.5"/>
<circle cx="266.20" cy="322.30" r="1.9" fill="#c2103d" stroke="#8a0c30" stroke-width="0.5"/>
<circle cx="256.60" cy="326.50" r="1.9" fill="#c2103d" stroke="#8a0c30" stroke-width="0.5"/>
<circle cx="262.40" cy="326.50" r="1.9" fill="#c2103d" stroke="#8a0c30" stroke-width="0.5"/>
<circle cx="256.00" cy="331.00" r="1.9" fill="#c2103d" stroke="#8a0c30" stroke-width="0.5"/>
<circle cx="263.00" cy="331.00" r="1.9" fill="#c2103d" stroke="#8a0c30" stroke-width="0.5"/>
<circle cx="259.40" cy="335.50" r="1.9" fill="#c2103d" stroke="#8a0c30" stroke-width="0.5"/>
<circle cx="257.90" cy="341.20" r="1.9" fill="#c2103d" stroke="#8a0c30" stroke-width="0.5"/>
<circle cx="261.10" cy="341.20" r="1.9" fill="#c2103d" stroke="#8a0c30" stroke-width="0.5"/>
<circle cx="259.40" cy="347.60" r="1.9" fill="#c2103d" stroke="#8a0c30" stroke-width="0.5"/>
<circle cx="308.60" cy="335.50" r="1.9" fill="#3f1a62" stroke="#2e1248" stroke-width="0.5"/>
<circle cx="308.60" cy="340.20" r="1.9" fill="#3f1a62" stroke="#2e1248" stroke-width="0.5"/>
<circle cx="304.30" cy="346.90" r="1.9" fill="#3f1a62" stroke="#2e1248" stroke-width="0.5"/>
<circle cx="311.60" cy="346.50" r="1.9" fill="#3f1a62" stroke="#2e1248" stroke-width="0.5"/>
<text x="322.50" y="333.10" font-size="7.5" text-anchor="start" fill="#222" stroke="#222" stroke-width="0.28" >74%</text>
<text x="322.50" y="341.30" font-size="7.5" text-anchor="start" fill="#222" stroke="#222" stroke-width="0.28" >51%</text>
<text x="322.50" y="351.50" font-size="7.5" text-anchor="start" fill="#222" stroke="#222" stroke-width="0.28" >71%</text>
<text x="294.70" y="350.70" font-size="7.5" text-anchor="end" fill="#222" stroke="#222" stroke-width="0.28" >29%</text>
<text x="378.00" y="219.40" font-size="11" text-anchor="start" fill="#111" stroke="#222" stroke-width="0.28" font-weight="bold">F</text>
<text x="467.70" y="221.50" font-size="9" text-anchor="middle" fill="#222" stroke="#222" stroke-width="0.28" >Plasma IDUA</text>
<line x1="416.20" y1="232.30" x2="416.20" y2="353.80" stroke="#222" stroke-width="1.2"/>
<line x1="413.20" y1="353.50" x2="416.20" y2="353.50" stroke="#222" stroke-width="1"/>
<text x="410.20" y="356.00" font-size="7.6" text-anchor="end" fill="#222" stroke="#222" stroke-width="0.28" >0</text>
<line x1="413.20" y1="323.50" x2="416.20" y2="323.50" stroke="#222" stroke-width="1"/>
<text x="410.20" y="326.65" font-size="7.6" text-anchor="end" fill="#222" stroke="#222" stroke-width="0.28" >5</text>
<line x1="413.20" y1="294.50" x2="416.20" y2="294.50" stroke="#222" stroke-width="1"/>
<text x="410.20" y="297.30" font-size="7.6" text-anchor="end" fill="#222" stroke="#222" stroke-width="0.28" >10</text>
<line x1="413.20" y1="265.50" x2="416.20" y2="265.50" stroke="#222" stroke-width="1"/>
<text x="410.20" y="267.95" font-size="7.6" text-anchor="end" fill="#222" stroke="#222" stroke-width="0.28" >15</text>
<line x1="413.20" y1="235.50" x2="416.20" y2="235.50" stroke="#222" stroke-width="1"/>
<text x="410.20" y="238.60" font-size="7.6" text-anchor="end" fill="#222" stroke="#222" stroke-width="0.28" >20</text>
<text transform="translate(395.00,294.50) rotate(-90)" font-size="7.9" text-anchor="middle" fill="#222" stroke="#222" stroke-width="0.35" textLength="34.5" lengthAdjust="spacingAndGlyphs">nmol/hr/mL</text>
<rect x="431.70" y="322.10" width="14.20" height="31.20" fill="#eb9daf"/>
<rect x="464.60" y="318.50" width="14.60" height="34.80" fill="#8fb0d3"/>
<rect x="497.30" y="327.70" width="15.00" height="25.60" fill="#9cd99f"/>
<line x1="438.50" y1="322.10" x2="438.50" y2="300.60" stroke="#222" stroke-width="1"/>
<line x1="434.30" y1="300.50" x2="443.30" y2="300.50" stroke="#222" stroke-width="1"/>
<line x1="472.50" y1="318.50" x2="472.50" y2="297.40" stroke="#222" stroke-width="1"/>
<line x1="467.25" y1="297.50" x2="476.75" y2="297.50" stroke="#222" stroke-width="1"/>
<line x1="504.50" y1="327.70" x2="504.50" y2="315.90" stroke="#222" stroke-width="1"/>
<line x1="497.55" y1="315.50" x2="512.05" y2="315.50" stroke="#222" stroke-width="1"/>
<line x1="416.20" y1="353.30" x2="520.00" y2="353.30" stroke="#222" stroke-width="1.2"/>
<line x1="438.50" y1="353.30" x2="438.50" y2="355.80" stroke="#222" stroke-width="1"/>
<line x1="472.50" y1="353.30" x2="472.50" y2="355.80" stroke="#222" stroke-width="1"/>
<line x1="504.50" y1="353.30" x2="504.50" y2="355.80" stroke="#222" stroke-width="1"/>
<text transform="translate(440.30,363.60) rotate(-45)" font-size="7.9" text-anchor="end" fill="#222" stroke="#222" stroke-width="0.28">UCB, all</text>
<text transform="translate(475.60,363.60) rotate(-45)" font-size="7.9" text-anchor="end" fill="#222" stroke="#222" stroke-width="0.28">UCB, ≥ 85%</text>
<text x="504.80" y="365.50" font-size="7.9" text-anchor="middle" fill="#222" stroke="#222" stroke-width="0.28" >BM</text>
<polyline points="471.50,242.50 471.50,236.50 504.50,236.50 504.50,307.50" fill="none" stroke="#222" stroke-width="1"/>
<text x="488.20" y="233.10" font-size="7.8" text-anchor="middle" fill="#222" stroke="#222" stroke-width="0.28" >0.2746</text>
<circle cx="438.80" cy="249.30" r="1.9" fill="#c2103d" stroke="#8a0c30" stroke-width="0.5"/>
<circle cx="438.80" cy="273.40" r="1.9" fill="#c2103d" stroke="#8a0c30" stroke-width="0.5"/>
<circle cx="438.80" cy="291.40" r="1.9" fill="#c2103d" stroke="#8a0c30" stroke-width="0.5"/>
<circle cx="438.80" cy="301.60" r="1.9" fill="#c2103d" stroke="#8a0c30" stroke-width="0.5"/>
<circle cx="436.50" cy="311.20" r="1.9" fill="#c2103d" stroke="#8a0c30" stroke-width="0.5"/>
<circle cx="432.70" cy="315.30" r="1.9" fill="#c2103d" stroke="#8a0c30" stroke-width="0.5"/>
<circle cx="435.90" cy="315.70" r="1.9" fill="#c2103d" stroke="#8a0c30" stroke-width="0.5"/>
<circle cx="438.80" cy="316.30" r="1.9" fill="#c2103d" stroke="#8a0c30" stroke-width="0.5"/>
<circle cx="441.60" cy="315.70" r="1.9" fill="#c2103d" stroke="#8a0c30" stroke-width="0.5"/>
<circle cx="444.80" cy="315.70" r="1.9" fill="#c2103d" stroke="#8a0c30" stroke-width="0.5"/>
<circle cx="434.60" cy="320.80" r="1.9" fill="#c2103d" stroke="#8a0c30" stroke-width="0.5"/>
<circle cx="437.80" cy="322.10" r="1.9" fill="#c2103d" stroke="#8a0c30" stroke-width="0.5"/>
<circle cx="441.60" cy="321.50" r="1.9" fill="#c2103d" stroke="#8a0c30" stroke-width="0.5"/>
<circle cx="444.20" cy="322.10" r="1.9" fill="#c2103d" stroke="#8a0c30" stroke-width="0.5"/>
<circle cx="436.50" cy="326.60" r="1.9" fill="#c2103d" stroke="#8a0c30" stroke-width="0.5"/>
<circle cx="441.00" cy="326.00" r="1.9" fill="#c2103d" stroke="#8a0c30" stroke-width="0.5"/>
<circle cx="437.20" cy="330.40" r="1.9" fill="#c2103d" stroke="#8a0c30" stroke-width="0.5"/>
<circle cx="441.60" cy="330.40" r="1.9" fill="#c2103d" stroke="#8a0c30" stroke-width="0.5"/>
<circle cx="441.00" cy="340.00" r="1.9" fill="#c2103d" stroke="#8a0c30" stroke-width="0.5"/>
<circle cx="441.00" cy="345.10" r="1.9" fill="#c2103d" stroke="#8a0c30" stroke-width="0.5"/>
<circle cx="437.80" cy="347.40" r="1.9" fill="#c2103d" stroke="#8a0c30" stroke-width="0.5"/>
<circle cx="438.80" cy="334.90" r="1.9" fill="#58286a" stroke="#3a1a48" stroke-width="0.5"/>
<circle cx="436.50" cy="339.40" r="1.9" fill="#58286a" stroke="#3a1a48" stroke-width="0.5"/>
<circle cx="436.50" cy="344.50" r="1.9" fill="#58286a" stroke="#3a1a48" stroke-width="0.5"/>
<circle cx="441.40" cy="347.70" r="1.9" fill="#58286a" stroke="#3a1a48" stroke-width="0.5"/>
<circle cx="472.10" cy="249.30" r="1.9" fill="#1b4c7e" stroke="#0f2e52" stroke-width="0.5"/>
<circle cx="472.10" cy="273.40" r="1.9" fill="#1b4c7e" stroke="#0f2e52" stroke-width="0.5"/>
<circle cx="472.10" cy="291.40" r="1.9" fill="#1b4c7e" stroke="#0f2e52" stroke-width="0.5"/>
<circle cx="472.10" cy="301.60" r="1.9" fill="#1b4c7e" stroke="#0f2e52" stroke-width="0.5"/>
<circle cx="472.10" cy="311.90" r="1.9" fill="#1b4c7e" stroke="#0f2e52" stroke-width="0.5"/>
<circle cx="465.70" cy="315.10" r="1.9" fill="#1b4c7e" stroke="#0f2e52" stroke-width="0.5"/>
<circle cx="469.10" cy="315.70" r="1.9" fill="#1b4c7e" stroke="#0f2e52" stroke-width="0.5"/>
<circle cx="472.10" cy="316.30" r="1.9" fill="#1b4c7e" stroke="#0f2e52" stroke-width="0.5"/>
<circle cx="475.50" cy="315.70" r="1.9" fill="#1b4c7e" stroke="#0f2e52" stroke-width="0.5"/>
<circle cx="478.70" cy="315.30" r="1.9" fill="#1b4c7e" stroke="#0f2e52" stroke-width="0.5"/>
<circle cx="468.50" cy="321.50" r="1.9" fill="#1b4c7e" stroke="#0f2e52" stroke-width="0.5"/>
<circle cx="472.30" cy="321.50" r="1.9" fill="#1b4c7e" stroke="#0f2e52" stroke-width="0.5"/>
<circle cx="476.20" cy="322.10" r="1.9" fill="#1b4c7e" stroke="#0f2e52" stroke-width="0.5"/>
<circle cx="469.10" cy="326.00" r="1.9" fill="#1b4c7e" stroke="#0f2e52" stroke-width="0.5"/>
<circle cx="474.90" cy="326.00" r="1.9" fill="#1b4c7e" stroke="#0f2e52" stroke-width="0.5"/>
<circle cx="470.40" cy="330.40" r="1.9" fill="#1b4c7e" stroke="#0f2e52" stroke-width="0.5"/>
<circle cx="474.30" cy="330.40" r="1.9" fill="#1b4c7e" stroke="#0f2e52" stroke-width="0.5"/>
<circle cx="472.10" cy="335.50" r="1.9" fill="#1b4c7e" stroke="#0f2e52" stroke-width="0.5"/>
<circle cx="470.40" cy="340.60" r="1.9" fill="#1b4c7e" stroke="#0f2e52" stroke-width="0.5"/>
<circle cx="473.60" cy="340.60" r="1.9" fill="#1b4c7e" stroke="#0f2e52" stroke-width="0.5"/>
<circle cx="472.10" cy="347.70" r="1.9" fill="#1b4c7e" stroke="#0f2e52" stroke-width="0.5"/>
<circle cx="498.00" cy="315.90" r="1.9" fill="#3fa049" stroke="#2f7a33" stroke-width="0.5"/>
<circle cx="511.00" cy="315.90" r="1.9" fill="#3fa049" stroke="#2f7a33" stroke-width="0.5"/>
<circle cx="504.70" cy="319.20" r="1.9" fill="#3fa049" stroke="#2f7a33" stroke-width="0.5"/>
<circle cx="504.70" cy="324.00" r="1.9" fill="#3fa049" stroke="#2f7a33" stroke-width="0.5"/>
<circle cx="504.70" cy="329.60" r="1.9" fill="#3fa049" stroke="#2f7a33" stroke-width="0.5"/>
<circle cx="504.70" cy="337.80" r="1.9" fill="#3fa049" stroke="#2f7a33" stroke-width="0.5"/>
<circle cx="504.70" cy="343.30" r="1.9" fill="#3fa049" stroke="#2f7a33" stroke-width="0.5"/>
<text x="0.00" y="421.00" font-size="11" text-anchor="start" fill="#111" stroke="#222" stroke-width="0.28" font-weight="bold">G</text>
<text x="144.90" y="420.90" font-size="9" text-anchor="middle" fill="#222" stroke="#222" stroke-width="0.28" >Leukocyte IDUA</text>
<line x1="37.70" y1="429.30" x2="37.70" y2="520.10" stroke="#222" stroke-width="1.2"/>
<line x1="34.70" y1="519.50" x2="37.70" y2="519.50" stroke="#222" stroke-width="1"/>
<text x="31.60" y="522.30" font-size="7.6" text-anchor="end" fill="#222" stroke="#222" stroke-width="0.28" >0</text>
<line x1="34.70" y1="490.50" x2="37.70" y2="490.50" stroke="#222" stroke-width="1"/>
<text x="31.60" y="493.60" font-size="7.6" text-anchor="end" fill="#222" stroke="#222" stroke-width="0.28" >20</text>
<line x1="34.70" y1="462.50" x2="37.70" y2="462.50" stroke="#222" stroke-width="1"/>
<text x="31.60" y="464.90" font-size="7.6" text-anchor="end" fill="#222" stroke="#222" stroke-width="0.28" >40</text>
<line x1="34.70" y1="433.50" x2="37.70" y2="433.50" stroke="#222" stroke-width="1"/>
<text x="31.60" y="436.20" font-size="7.6" text-anchor="end" fill="#222" stroke="#222" stroke-width="0.28" >60</text>
<text transform="translate(16.50,475.20) rotate(-90)" font-size="7.9" text-anchor="middle" fill="#222" stroke="#222" stroke-width="0.35" textLength="34.8" lengthAdjust="spacingAndGlyphs">nmol/hr/mg</text>
<line x1="37.70" y1="519.60" x2="252.30" y2="519.60" stroke="#222" stroke-width="1.2"/>
<line x1="37.50" y1="519.60" x2="37.50" y2="522.60" stroke="#222" stroke-width="1"/>
<text x="37.70" y="532.00" font-size="7.8" text-anchor="middle" fill="#222" stroke="#222" stroke-width="0.28" >0</text>
<line x1="55.50" y1="519.60" x2="55.50" y2="521.60" stroke="#222" stroke-width="1"/>
<line x1="72.50" y1="519.60" x2="72.50" y2="522.60" stroke="#222" stroke-width="1"/>
<text x="72.40" y="532.00" font-size="7.8" text-anchor="middle" fill="#222" stroke="#222" stroke-width="0.28" >5</text>
<line x1="89.50" y1="519.60" x2="89.50" y2="521.60" stroke="#222" stroke-width="1"/>
<line x1="107.50" y1="519.60" x2="107.50" y2="522.60" stroke="#222" stroke-width="1"/>
<text x="107.10" y="532.00" font-size="7.8" text-anchor="middle" fill="#222" stroke="#222" stroke-width="0.28" >10</text>
<line x1="124.50" y1="519.60" x2="124.50" y2="521.60" stroke="#222" stroke-width="1"/>
<line x1="141.50" y1="519.60" x2="141.50" y2="522.60" stroke="#222" stroke-width="1"/>
<text x="141.80" y="532.00" font-size="7.8" text-anchor="middle" fill="#222" stroke="#222" stroke-width="0.28" >15</text>
<line x1="159.50" y1="519.60" x2="159.50" y2="521.60" stroke="#222" stroke-width="1"/>
<line x1="176.50" y1="519.60" x2="176.50" y2="522.60" stroke="#222" stroke-width="1"/>
<text x="176.50" y="532.00" font-size="7.8" text-anchor="middle" fill="#222" stroke="#222" stroke-width="0.28" >20</text>
<line x1="193.50" y1="519.60" x2="193.50" y2="521.60" stroke="#222" stroke-width="1"/>
<line x1="211.50" y1="519.60" x2="211.50" y2="522.60" stroke="#222" stroke-width="1"/>
<text x="211.20" y="532.00" font-size="7.8" text-anchor="middle" fill="#222" stroke="#222" stroke-width="0.28" >25</text>
<line x1="228.50" y1="519.60" x2="228.50" y2="521.60" stroke="#222" stroke-width="1"/>
<line x1="245.50" y1="519.60" x2="245.50" y2="522.60" stroke="#222" stroke-width="1"/>
<text x="245.90" y="532.00" font-size="7.8" text-anchor="middle" fill="#222" stroke="#222" stroke-width="0.28" >30</text>
<text x="145.00" y="544.30" font-size="9.3" text-anchor="middle" fill="#222" stroke="#222" stroke-width="0.35" textLength="45.5" lengthAdjust="spacingAndGlyphs">Years after HCT</text>
<polygon points="41.50,481.25 45.52,481.39 49.55,481.49 53.57,481.55 57.59,481.56 61.62,481.49 65.64,481.33 69.66,481.07 73.69,480.68 77.71,480.14 81.73,479.45 85.76,478.60 89.78,477.60 93.80,476.48 97.83,475.24 101.85,473.91 105.87,472.51 109.90,471.05 113.92,469.55 117.94,468.01 121.97,466.43 125.99,464.84 130.01,463.22 134.04,461.59 138.06,459.95 142.08,458.29 146.11,456.63 150.13,454.96 154.15,453.28 158.18,451.59 162.20,449.90 162.20,494.50 158.18,494.22 154.15,493.94 150.13,493.66 146.11,493.40 142.08,493.14 138.06,492.89 134.04,492.65 130.01,492.43 125.99,492.22 121.97,492.03 117.94,491.87 113.92,491.73 109.90,491.64 105.87,491.58 101.85,491.59 97.83,491.67 93.80,491.84 89.78,492.12 85.76,492.53 81.73,493.08 77.71,493.80 73.69,494.67 69.66,495.68 65.64,496.83 61.62,498.08 57.59,499.42 53.57,500.83 49.55,502.29 45.52,503.80 41.50,505.35" fill="#e07a8e" fill-opacity="0.45"/>
<polygon points="65.40,463.95 71.04,465.37 76.67,466.78 82.31,468.17 87.95,469.55 93.58,470.91 99.22,472.24 104.86,473.54 110.49,474.81 116.13,476.03 121.77,477.18 127.40,478.26 133.04,479.25 138.68,480.10 144.31,480.81 149.95,481.33 155.59,481.65 161.22,481.77 166.86,481.68 172.50,481.41 178.13,480.98 183.77,480.44 189.41,479.80 195.04,479.08 200.68,478.30 206.32,477.47 211.95,476.61 217.59,475.71 223.23,474.79 228.86,473.85 234.50,472.90 234.50,512.30 228.86,510.91 223.23,509.53 217.59,508.17 211.95,506.83 206.32,505.53 200.68,504.26 195.04,503.04 189.41,501.88 183.77,500.80 178.13,499.82 172.50,498.95 166.86,498.24 161.22,497.71 155.59,497.39 149.95,497.27 144.31,497.35 138.68,497.62 133.04,498.03 127.40,498.58 121.77,499.22 116.13,499.93 110.49,500.71 104.86,501.54 99.22,502.40 93.58,503.29 87.95,504.21 82.31,505.15 76.67,506.10 71.04,507.07 65.40,508.05" fill="#7d9fc0" fill-opacity="0.37"/>
<line x1="41.50" y1="493.50" x2="162.20" y2="471.90" stroke="#c4103a" stroke-width="1.4"/>
<line x1="65.40" y1="486.00" x2="234.50" y2="492.40" stroke="#1b4c7e" stroke-width="1.4"/>
<circle cx="40.80" cy="506.90" r="1.85" fill="#c2103d" stroke="#8a0c30" stroke-width="0.5"/>
<circle cx="51.00" cy="469.00" r="1.85" fill="#c2103d" stroke="#8a0c30" stroke-width="0.5"/>
<circle cx="49.70" cy="494.80" r="1.85" fill="#c2103d" stroke="#8a0c30" stroke-width="0.5"/>
<circle cx="52.40" cy="494.00" r="1.85" fill="#c2103d" stroke="#8a0c30" stroke-width="0.5"/>
<circle cx="51.00" cy="498.80" r="1.85" fill="#c2103d" stroke="#8a0c30" stroke-width="0.5"/>
<circle cx="51.60" cy="504.00" r="1.85" fill="#c2103d" stroke="#8a0c30" stroke-width="0.5"/>
<circle cx="52.40" cy="511.50" r="1.85" fill="#c2103d" stroke="#8a0c30" stroke-width="0.5"/>
<circle cx="59.10" cy="488.60" r="1.85" fill="#c2103d" stroke="#8a0c30" stroke-width="0.5"/>
<circle cx="58.60" cy="496.20" r="1.85" fill="#c2103d" stroke="#8a0c30" stroke-width="0.5"/>
<circle cx="59.60" cy="504.00" r="1.85" fill="#c2103d" stroke="#8a0c30" stroke-width="0.5"/>
<circle cx="63.70" cy="455.90" r="1.85" fill="#c2103d" stroke="#8a0c30" stroke-width="0.5"/>
<circle cx="65.80" cy="469.00" r="1.85" fill="#c2103d" stroke="#8a0c30" stroke-width="0.5"/>
<circle cx="73.90" cy="506.90" r="1.85" fill="#c2103d" stroke="#8a0c30" stroke-width="0.5"/>
<circle cx="82.70" cy="476.60" r="1.85" fill="#c2103d" stroke="#8a0c30" stroke-width="0.5"/>
<circle cx="86.00" cy="455.60" r="1.85" fill="#c2103d" stroke="#8a0c30" stroke-width="0.5"/>
<circle cx="86.00" cy="498.60" r="1.85" fill="#c2103d" stroke="#8a0c30" stroke-width="0.5"/>
<circle cx="89.40" cy="491.90" r="1.85" fill="#c2103d" stroke="#8a0c30" stroke-width="0.5"/>
<circle cx="93.50" cy="502.90" r="1.85" fill="#c2103d" stroke="#8a0c30" stroke-width="0.5"/>
<circle cx="94.50" cy="509.60" r="1.85" fill="#c2103d" stroke="#8a0c30" stroke-width="0.5"/>
<circle cx="99.90" cy="451.80" r="1.85" fill="#c2103d" stroke="#8a0c30" stroke-width="0.5"/>
<circle cx="99.90" cy="454.50" r="1.85" fill="#c2103d" stroke="#8a0c30" stroke-width="0.5"/>
<circle cx="101.50" cy="476.60" r="1.85" fill="#c2103d" stroke="#8a0c30" stroke-width="0.5"/>
<circle cx="106.90" cy="468.50" r="1.85" fill="#c2103d" stroke="#8a0c30" stroke-width="0.5"/>
<circle cx="110.10" cy="468.50" r="1.85" fill="#c2103d" stroke="#8a0c30" stroke-width="0.5"/>
<circle cx="108.80" cy="492.10" r="1.85" fill="#c2103d" stroke="#8a0c30" stroke-width="0.5"/>
<circle cx="115.00" cy="508.20" r="1.85" fill="#c2103d" stroke="#8a0c30" stroke-width="0.5"/>
<circle cx="162.20" cy="483.10" r="1.85" fill="#c2103d" stroke="#8a0c30" stroke-width="0.5"/>
<rect x="62.70" y="474.30" width="4.6" height="4.6" fill="#1b4c7e"/>
<rect x="76.90" y="498.40" width="4.6" height="4.6" fill="#1b4c7e"/>
<rect x="146.90" y="467.90" width="4.6" height="4.6" fill="#1b4c7e"/>
<rect x="137.70" y="484.80" width="4.6" height="4.6" fill="#1b4c7e"/>
<rect x="153.70" y="500.20" width="4.6" height="4.6" fill="#1b4c7e"/>
<rect x="212.20" y="476.50" width="4.6" height="4.6" fill="#1b4c7e"/>
<rect x="214.00" y="501.70" width="4.6" height="4.6" fill="#1b4c7e"/>
<rect x="232.20" y="493.10" width="4.6" height="4.6" fill="#1b4c7e"/>
<line x1="177.50" y1="439.40" x2="189.20" y2="439.40" stroke="#c4103a" stroke-width="1.1"/>
<circle cx="183.10" cy="439.40" r="1.55" fill="#c2103d" stroke="#8a0c30" stroke-width="0.5"/>
<text x="191.40" y="442.00" font-size="7.5" text-anchor="start" fill="#222" stroke="#222" stroke-width="0.28" >UCB, P = 0.1802</text>
<line x1="177.50" y1="451.50" x2="189.20" y2="451.50" stroke="#1b4c7e" stroke-width="1.1"/>
<rect x="181.30" y="449.70" width="3.6" height="3.6" fill="#1b4c7e"/>
<text x="191.40" y="454.10" font-size="7.5" text-anchor="start" fill="#222" stroke="#222" stroke-width="0.28" >BM, P = 0.6457</text>
<text x="266.70" y="421.00" font-size="11" text-anchor="start" fill="#111" stroke="#222" stroke-width="0.28" font-weight="bold">H</text>
<text x="412.50" y="421.10" font-size="9" text-anchor="middle" fill="#222" stroke="#222" stroke-width="0.28" >Plasma IDUA</text>
<line x1="304.70" y1="429.30" x2="304.70" y2="520.10" stroke="#222" stroke-width="1.2"/>
<line x1="301.70" y1="519.50" x2="304.70" y2="519.50" stroke="#222" stroke-width="1"/>
<text x="298.60" y="522.30" font-size="7.6" text-anchor="end" fill="#222" stroke="#222" stroke-width="0.28" >0</text>
<line x1="301.70" y1="498.50" x2="304.70" y2="498.50" stroke="#222" stroke-width="1"/>
<text x="298.60" y="500.78" font-size="7.6" text-anchor="end" fill="#222" stroke="#222" stroke-width="0.28" >5</text>
<line x1="301.70" y1="476.50" x2="304.70" y2="476.50" stroke="#222" stroke-width="1"/>
<text x="298.60" y="479.25" font-size="7.6" text-anchor="end" fill="#222" stroke="#222" stroke-width="0.28" >10</text>
<line x1="301.70" y1="455.50" x2="304.70" y2="455.50" stroke="#222" stroke-width="1"/>
<text x="298.60" y="457.72" font-size="7.6" text-anchor="end" fill="#222" stroke="#222" stroke-width="0.28" >15</text>
<line x1="301.70" y1="433.50" x2="304.70" y2="433.50" stroke="#222" stroke-width="1"/>
<text x="298.60" y="436.20" font-size="7.6" text-anchor="end" fill="#222" stroke="#222" stroke-width="0.28" >20</text>
<text transform="translate(282.60,474.20) rotate(-90)" font-size="7.9" text-anchor="middle" fill="#222" stroke="#222" stroke-width="0.35" textLength="34.8" lengthAdjust="spacingAndGlyphs">nmol/hr/mL</text>
<line x1="304.70" y1="519.60" x2="520.00" y2="519.60" stroke="#222" stroke-width="1.2"/>
<line x1="304.50" y1="519.60" x2="304.50" y2="522.60" stroke="#222" stroke-width="1"/>
<text x="304.70" y="532.00" font-size="7.8" text-anchor="middle" fill="#222" stroke="#222" stroke-width="0.28" >0</text>
<line x1="322.50" y1="519.60" x2="322.50" y2="521.60" stroke="#222" stroke-width="1"/>
<line x1="339.50" y1="519.60" x2="339.50" y2="522.60" stroke="#222" stroke-width="1"/>
<text x="339.45" y="532.00" font-size="7.8" text-anchor="middle" fill="#222" stroke="#222" stroke-width="0.28" >5</text>
<line x1="356.50" y1="519.60" x2="356.50" y2="521.60" stroke="#222" stroke-width="1"/>
<line x1="374.50" y1="519.60" x2="374.50" y2="522.60" stroke="#222" stroke-width="1"/>
<text x="374.20" y="532.00" font-size="7.8" text-anchor="middle" fill="#222" stroke="#222" stroke-width="0.28" >10</text>
<line x1="391.50" y1="519.60" x2="391.50" y2="521.60" stroke="#222" stroke-width="1"/>
<line x1="408.50" y1="519.60" x2="408.50" y2="522.60" stroke="#222" stroke-width="1"/>
<text x="408.95" y="532.00" font-size="7.8" text-anchor="middle" fill="#222" stroke="#222" stroke-width="0.28" >15</text>
<line x1="426.50" y1="519.60" x2="426.50" y2="521.60" stroke="#222" stroke-width="1"/>
<line x1="443.50" y1="519.60" x2="443.50" y2="522.60" stroke="#222" stroke-width="1"/>
<text x="443.70" y="532.00" font-size="7.8" text-anchor="middle" fill="#222" stroke="#222" stroke-width="0.28" >20</text>
<line x1="461.50" y1="519.60" x2="461.50" y2="521.60" stroke="#222" stroke-width="1"/>
<line x1="478.50" y1="519.60" x2="478.50" y2="522.60" stroke="#222" stroke-width="1"/>
<text x="478.45" y="532.00" font-size="7.8" text-anchor="middle" fill="#222" stroke="#222" stroke-width="0.28" >25</text>
<line x1="495.50" y1="519.60" x2="495.50" y2="521.60" stroke="#222" stroke-width="1"/>
<line x1="513.50" y1="519.60" x2="513.50" y2="522.60" stroke="#222" stroke-width="1"/>
<text x="513.20" y="532.00" font-size="7.8" text-anchor="middle" fill="#222" stroke="#222" stroke-width="0.28" >30</text>
<text x="412.50" y="544.30" font-size="9.3" text-anchor="middle" fill="#222" stroke="#222" stroke-width="0.35" textLength="45.5" lengthAdjust="spacingAndGlyphs">Years after HCT</text>
<polygon points="308.30,482.70 312.33,483.19 316.35,483.66 320.38,484.08 324.41,484.45 328.43,484.78 332.46,485.05 336.49,485.25 340.51,485.39 344.54,485.46 348.57,485.45 352.59,485.37 356.62,485.23 360.65,485.02 364.67,484.75 368.70,484.42 372.73,484.05 376.75,483.64 380.78,483.20 384.81,482.73 388.83,482.23 392.86,481.71 396.89,481.17 400.91,480.61 404.94,480.04 408.97,479.45 412.99,478.86 417.02,478.26 421.05,477.64 425.07,477.03 429.10,476.40 429.10,509.60 425.07,508.93 421.05,508.27 417.02,507.61 412.99,506.97 408.97,506.33 404.94,505.70 400.91,505.09 396.89,504.49 392.86,503.90 388.83,503.34 384.81,502.80 380.78,502.28 376.75,501.79 372.73,501.34 368.70,500.93 364.67,500.56 360.65,500.25 356.62,499.99 352.59,499.80 348.57,499.68 344.54,499.63 340.51,499.65 336.49,499.75 332.46,499.91 328.43,500.14 324.41,500.42 320.38,500.75 316.35,501.13 312.33,501.55 308.30,502.00" fill="#e07a8e" fill-opacity="0.45"/>
<polygon points="332.00,487.30 337.66,487.88 343.32,488.44 348.98,489.00 354.64,489.55 360.30,490.08 365.96,490.60 371.62,491.09 377.28,491.57 382.94,492.01 388.60,492.41 394.26,492.78 399.92,493.08 405.58,493.33 411.24,493.49 416.90,493.57 422.56,493.54 428.22,493.41 433.88,493.17 439.54,492.83 445.20,492.39 450.86,491.87 456.52,491.27 462.18,490.62 467.84,489.92 473.50,489.18 479.16,488.41 484.82,487.61 490.48,486.79 496.14,485.95 501.80,485.10 501.80,509.60 496.14,509.06 490.48,508.53 484.82,508.03 479.16,507.54 473.50,507.08 467.84,506.66 462.18,506.27 456.52,505.93 450.86,505.65 445.20,505.44 439.54,505.32 433.88,505.29 428.22,505.36 422.56,505.54 416.90,505.83 411.24,506.22 405.58,506.70 399.92,507.26 394.26,507.88 388.60,508.55 382.94,509.27 377.28,510.03 371.62,510.81 365.96,511.62 360.30,512.45 354.64,513.30 348.98,514.16 343.32,515.03 337.66,515.91 332.00,516.80" fill="#7d9fc0" fill-opacity="0.37"/>
<line x1="308.30" y1="492.20" x2="429.10" y2="494.30" stroke="#c4103a" stroke-width="1.4"/>
<line x1="332.00" y1="502.90" x2="501.80" y2="497.50" stroke="#1b4c7e" stroke-width="1.4"/>
<circle cx="308.30" cy="500.20" r="1.85" fill="#c2103d" stroke="#8a0c30" stroke-width="0.5"/>
<circle cx="318.60" cy="474.10" r="1.85" fill="#c2103d" stroke="#8a0c30" stroke-width="0.5"/>
<circle cx="316.90" cy="495.40" r="1.85" fill="#c2103d" stroke="#8a0c30" stroke-width="0.5"/>
<circle cx="319.10" cy="495.40" r="1.85" fill="#c2103d" stroke="#8a0c30" stroke-width="0.5"/>
<circle cx="319.10" cy="500.70" r="1.85" fill="#c2103d" stroke="#8a0c30" stroke-width="0.5"/>
<circle cx="319.60" cy="510.10" r="1.85" fill="#c2103d" stroke="#8a0c30" stroke-width="0.5"/>
<circle cx="325.80" cy="490.80" r="1.85" fill="#c2103d" stroke="#8a0c30" stroke-width="0.5"/>
<circle cx="325.80" cy="510.10" r="1.85" fill="#c2103d" stroke="#8a0c30" stroke-width="0.5"/>
<circle cx="330.40" cy="502.90" r="1.85" fill="#c2103d" stroke="#8a0c30" stroke-width="0.5"/>
<circle cx="332.50" cy="461.00" r="1.85" fill="#c2103d" stroke="#8a0c30" stroke-width="0.5"/>
<circle cx="338.40" cy="490.00" r="1.85" fill="#c2103d" stroke="#8a0c30" stroke-width="0.5"/>
<circle cx="340.60" cy="502.90" r="1.85" fill="#c2103d" stroke="#8a0c30" stroke-width="0.5"/>
<circle cx="350.00" cy="496.20" r="1.85" fill="#c2103d" stroke="#8a0c30" stroke-width="0.5"/>
<circle cx="353.50" cy="496.20" r="1.85" fill="#c2103d" stroke="#8a0c30" stroke-width="0.5"/>
<circle cx="353.50" cy="481.40" r="1.85" fill="#c2103d" stroke="#8a0c30" stroke-width="0.5"/>
<circle cx="356.70" cy="492.10" r="1.85" fill="#c2103d" stroke="#8a0c30" stroke-width="0.5"/>
<circle cx="361.50" cy="491.90" r="1.85" fill="#c2103d" stroke="#8a0c30" stroke-width="0.5"/>
<circle cx="366.90" cy="443.50" r="1.85" fill="#c2103d" stroke="#8a0c30" stroke-width="0.5"/>
<circle cx="360.70" cy="506.10" r="1.85" fill="#c2103d" stroke="#8a0c30" stroke-width="0.5"/>
<circle cx="368.80" cy="496.20" r="1.85" fill="#c2103d" stroke="#8a0c30" stroke-width="0.5"/>
<circle cx="375.00" cy="491.90" r="1.85" fill="#c2103d" stroke="#8a0c30" stroke-width="0.5"/>
<circle cx="376.80" cy="488.60" r="1.85" fill="#c2103d" stroke="#8a0c30" stroke-width="0.5"/>
<circle cx="376.00" cy="499.90" r="1.85" fill="#c2103d" stroke="#8a0c30" stroke-width="0.5"/>
<circle cx="382.20" cy="492.70" r="1.85" fill="#c2103d" stroke="#8a0c30" stroke-width="0.5"/>
<circle cx="429.10" cy="515.40" r="1.85" fill="#c2103d" stroke="#8a0c30" stroke-width="0.5"/>
<rect x="343.70" y="489.60" width="4.6" height="4.6" fill="#1b4c7e"/>
<rect x="329.70" y="510.00" width="4.6" height="4.6" fill="#1b4c7e"/>
<rect x="414.40" y="492.30" width="4.6" height="4.6" fill="#1b4c7e"/>
<rect x="421.10" y="505.90" width="4.6" height="4.6" fill="#1b4c7e"/>
<rect x="479.60" y="490.60" width="4.6" height="4.6" fill="#1b4c7e"/>
<rect x="481.60" y="495.20" width="4.6" height="4.6" fill="#1b4c7e"/>
<rect x="499.50" y="499.50" width="4.6" height="4.6" fill="#1b4c7e"/>
<line x1="444.40" y1="439.50" x2="455.70" y2="439.50" stroke="#c4103a" stroke-width="1.1"/>
<circle cx="450.00" cy="439.50" r="1.55" fill="#c2103d" stroke="#8a0c30" stroke-width="0.5"/>
<text x="458.00" y="442.10" font-size="7.5" text-anchor="start" fill="#222" stroke="#222" stroke-width="0.28" >UCB, P = 0.8692</text>
<line x1="444.40" y1="451.90" x2="455.70" y2="451.90" stroke="#1b4c7e" stroke-width="1.1"/>
<rect x="448.20" y="450.10" width="3.6" height="3.6" fill="#1b4c7e"/>
<text x="458.00" y="454.50" font-size="7.5" text-anchor="start" fill="#222" stroke="#222" stroke-width="0.28" >BM, P = 0.5494</text>
</svg></body></html>
